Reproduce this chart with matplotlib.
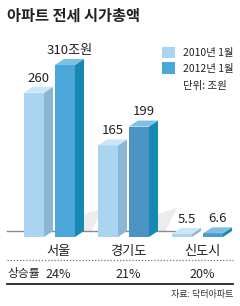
import matplotlib
matplotlib.use("Agg")
import matplotlib.pyplot as plt
import numpy as np
from matplotlib import font_manager
from matplotlib.patches import Polygon, Rectangle

# data (unit: 조원)
regions = ["서울", "경기도", "신도시"]
jan2010 = [260, 165, 5.5]
jan2012 = [310, 199, 6.6]
labels_2010 = ["260", "165", "5.5"]
labels_2012 = ["310조원", "199", "6.6"]
growth = ["24%", "21%", "20%"]
series_names = ["2010년 1월", "2012년 1월"]

KR = "Noto Sans CJK KR"
names = {f.name for f in font_manager.fontManager.ttflist}
NUM = ["Liberation Sans Narrow", KR] if "Liberation Sans Narrow" in names else [KR, "DejaVu Sans"]
plt.rcParams["font.family"] = [KR, "DejaVu Sans"]

light = dict(front="#a9d5f1", side="#8cb7d4", top="#cae6f8")
dark_front = ["#4ba7d7", "#4a93c4", "#4a9ccc"]
dark = dict(side="#1588b3", top="#80bfe3")

W, H = 240, 306
fig = plt.figure(figsize=(W / 100, H / 100), dpi=100)
fig.patch.set_facecolor("white")

# background axes in pixel coords for text and rules
bg = fig.add_axes([0, 0, 1, 1])
bg.set_xlim(0, W); bg.set_ylim(H, 0); bg.axis("off")

# bar axes: 74 px per group, 0.555 px per 조원, floor at y=237 px
px_unit = 74.0
py_unit = 0.555
floor = 237
ax = fig.add_axes([0, (H - floor) / H, 1, floor / H])
ax.set_xlim(-49.5 / px_unit, (W - 49.5) / px_unit)
ax.set_ylim(0, floor / py_unit)
ax.axis("off"); ax.patch.set_alpha(0)

x = np.arange(len(regions))
w = 20 / px_unit
off = 15.5 / px_unit
dx, dy = 9 / px_unit, 6 / py_unit
PT = 0.72  # points per pixel at 100 dpi


def bar3d(xc, v, front, side, top):
    ax.bar(xc, v, w, color=front, zorder=3, linewidth=0)
    r = xc + w / 2
    ax.add_patch(Polygon([(r, 0), (r + dx, dy), (r + dx, v + dy), (r, v)],
                         closed=True, color=side, lw=0, zorder=3))
    ax.add_patch(Polygon([(xc - w / 2, v), (r, v), (r + dx, v + dy), (xc - w / 2 + dx, v + dy)],
                         closed=True, color=top, lw=0, zorder=3))


# floor line and soft shadows
ax.plot([-42.5 / px_unit, 125.5 / px_unit], [dy, dy], color="#8a8a8a", lw=1.0, zorder=1)
for xi in x[:2]:
    xr = xi + off + w / 2 + dx
    ax.add_patch(Polygon([(xr, dy), (xr, dy + 30), (xr + 0.26, dy + 42), (xr + 0.1, dy)],
                         closed=True, color="#ececec", lw=0, zorder=0.5))

for i in x:
    bar3d(i - off, jan2010[i], light["front"], light["side"], light["top"])
    bar3d(i + off, jan2012[i], dark_front[i], dark["side"], dark["top"])
    ax.annotate(labels_2010[i], (i - off + dx / 2, jan2010[i] + dy), xytext=(0, 1.5),
                textcoords="offset points", ha="center", va="bottom",
                fontsize=9.5, family=NUM, color="#222222")
    ax.annotate(labels_2012[i], (i + off + dx / 2, jan2012[i] + dy), xytext=(0, 1.5),
                textcoords="offset points", ha="center", va="bottom",
                fontsize=9.5, family=NUM, color="#222222")
    # category and growth labels under each group (Seoul sits a bit right in the original)
    nudge = 4 / px_unit if i == 0 else 0
    ax.annotate(regions[i], (i + dx / 2 + nudge, 0), xytext=(0, -15 * PT),
                textcoords="offset points", ha="center", va="center",
                fontsize=9.5, color="#222222")
    ax.annotate(growth[i], (i + dx / 2 + nudge, 0), xytext=(0, -37 * PT),
                textcoords="offset points", ha="center", va="center",
                fontsize=9, family=NUM, color="#222222")

# title
bg.text(7, 16, "아파트 전세 시가총액", fontsize=11, fontweight="bold",
        ha="left", va="center", color="#222222")

# legend
for k, (name, col) in enumerate(zip(series_names, [light["front"], dark_front[0]])):
    bg.add_patch(Rectangle((162, 46.5 + k * 15.5), 13, 11.5, color=col, lw=0))
    bg.text(183, 53 + k * 16, name, fontsize=7.5, ha="left", va="center",
            family=NUM, color="#222222")
bg.text(183, 86, "단위: 조원", fontsize=7.5, ha="left", va="center", color="#222222")

# rules and footer
bg.plot([7, 233], [259.5, 259.5], color="#777777", lw=0.9, ls=(0, (1, 1.5)))
bg.text(7, 273, "상승률", fontsize=8.5, ha="left", va="center", color="#222222")
bg.plot([7, 233], [284, 284], color="#111111", lw=1.2)
bg.text(233, 294.5, "자료: 닥터아파트", fontsize=6.5, ha="right", va="center", color="#333333")

fig.savefig("out.png", dpi=100, facecolor="white")
